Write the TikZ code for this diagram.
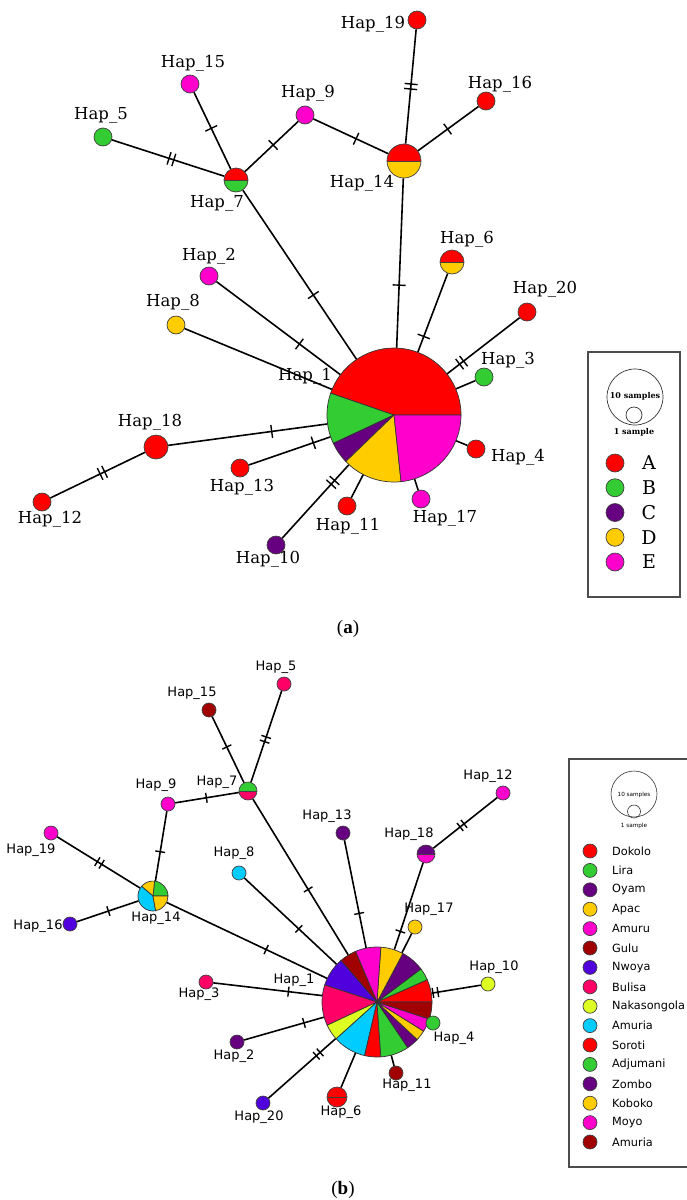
\documentclass[tikz,border=0pt]{standalone}
\usepackage{fontspec}
\setmainfont{DejaVu Sans}
\newfontfamily\hapserif{DejaVu Serif}
\newfontfamily\capserif{Liberation Serif}

\definecolor{hapred}{HTML}{FF0000}
\definecolor{hapgreen}{HTML}{33CC33}
\definecolor{happurple}{HTML}{660080}
\definecolor{hapyellow}{HTML}{FFCC00}
\definecolor{hapmagenta}{HTML}{FF00CC}
\definecolor{hapdarkred}{HTML}{A00000}
\definecolor{hapviolet}{HTML}{5000DC}
\definecolor{happink}{HTML}{FF0066}
\definecolor{haplime}{HTML}{DDFF22}
\definecolor{hapcyan}{HTML}{00CCFF}

\tikzset{
	hap/.style = {circle, draw = black!75, line width = 0.7pt, inner sep = 0pt, minimum size = #1},
	hap/.default = 18pt,
	hub/.style = {circle, inner sep = 0pt, minimum size = #1},
	halves/.style 2 args = {path picture = {
		\fill[#1] (path picture bounding box.west) rectangle (path picture bounding box.north east);
		\fill[#2] (path picture bounding box.west) rectangle (path picture bounding box.south east);
		\draw[line width = 0.8pt] (path picture bounding box.west) -- (path picture bounding box.east);}},
	link/.style = {line width = 1.6pt},
	slice/.style = {draw = black!80, line width = 0.7pt},
	tk/.style = {pos = #1, sloped},
	mut/.pic = {\draw[line width = 1.4pt] (0, -\tickh) -- (0, \tickh);},
	mutt/.pic = {\draw[line width = 1.4pt] (-2.5, -\tickh) -- (-2.5, \tickh) (2.5, -\tickh) -- (2.5, \tickh);},
	laba/.style = {font = \hapserif\fontsize{16.5}{18}\selectfont, inner sep = 0pt},
	labb/.style = {font = \fontsize{13}{15}\selectfont, inner sep = 0pt}
}

\begin{document}
\begin{tikzpicture}[x = 1pt, y = -1pt]
	\useasboundingbox (0, 0) rectangle (686, 1200);
	\def\tickh{6.5}

	% (a)
	\node[hap, fill = hapred] (a19) at (417, 20) {};
	\node[hap, fill = hapred] (a16) at (486, 101) {};
	\node[hap = 34pt, halves = {hapred}{hapyellow}] (a14) at (404, 161) {};
	\node[hap, fill = hapmagenta] (a9) at (305, 115) {};
	\node[hap, fill = hapmagenta] (a15) at (190, 84) {};
	\node[hap, fill = hapgreen] (a5) at (103, 137) {};
	\node[hap = 24pt, halves = {hapred}{hapgreen}] (a7) at (236, 180) {};
	\node[hap, fill = hapmagenta] (a2) at (209, 276) {};
	\node[hap = 24pt, halves = {hapred}{hapyellow}] (a6) at (452, 262) {};
	\node[hap, fill = hapred] (a20) at (527, 312) {};
	\node[hap, fill = hapgreen] (a3) at (484, 377) {};
	\node[hap, fill = hapyellow] (a8) at (176, 325) {};
	\node[hap = 24pt, fill = hapred] (a18) at (156, 447) {};
	\node[hap, fill = hapred] (a12) at (42, 502) {};
	\node[hap, fill = hapred] (a13) at (240, 468) {};
	\node[hap, fill = happurple] (a10) at (276, 545) {};
	\node[hap, fill = hapred] (a11) at (347, 506) {};
	\node[hap, fill = hapmagenta] (a17) at (421, 499) {};
	\node[hap, fill = hapred] (a4) at (476, 449) {};
	\node[hub = 134pt] (a1) at (394, 415) {};

	\draw[link] (a19) -- pic[tk = .50]{mutt} (a14);
	\draw[link] (a16) -- pic[tk = .51]{mut} (a14);
	\draw[link] (a9) -- pic[tk = .57]{mut} (a14);
	\draw[link] (a9) -- pic[tk = .47]{mut} (a7);
	\draw[link] (a15) -- pic[tk = .47]{mut} (a7);
	\draw[link] (a5) -- pic[tk = .53]{mutt} (a7);
	\draw[link] (a7) -- pic[tk = .62]{mut} (a1);
	\draw[link] (a14) -- pic[tk = .63]{mut} (a1);
	\draw[link] (a6) -- pic[tk = .80]{mut} (a1);
	\draw[link] (a20) -- pic[tk = .80]{mutt} (a1);
	\draw[link] (a3) -- (a1);
	\draw[link] (a2) -- pic[tk = .67]{mut} (a1);
	\draw[link] (a8) -- (a1);
	\draw[link] (a18) -- pic[tk = .65]{mut} (a1);
	\draw[link] (a12) -- pic[tk = .55]{mutt} (a18);
	\draw[link] (a13) -- pic[tk = .79]{mut} (a1);
	\draw[link] (a10) -- pic[tk = .76]{mutt} (a1);
	\draw[link] (a11) -- (a1);
	\draw[link] (a17) -- (a1);
	\draw[link] (a4) -- (a1);

	\begin{scope}[shift = {(a1.center)}, y = 1pt]
	\foreach \s/\e/\c in {0/161/hapred, 161/205/hapgreen, 205/224/happurple, 224/276/hapyellow, 276/360/hapmagenta}
	\filldraw[slice, fill = \c] (0, 0) -- (\s:67) arc[start angle = \s, end angle = \e, radius = 67] -- cycle;
	\end{scope}

	\node[laba] (la19) at (373, 24) {Hap\_19};
	\node[laba] (la16) at (500, 84) {Hap\_16};
	\node[laba] (la14) at (362, 183) {Hap\_14};
	\node[laba] (la9) at (308, 93) {Hap\_9};
	\node[laba] (la15) at (193, 63) {Hap\_15};
	\node[laba] (la5) at (101, 115) {Hap\_5};
	\node[laba] (la7) at (217, 203) {Hap\_7};
	\node[laba] (la2) at (209, 256) {Hap\_2};
	\node[laba] (la6) at (467, 239) {Hap\_6};
	\node[laba] (la20) at (545, 289) {Hap\_20};
	\node[laba] (la3) at (508, 360) {Hap\_3};
	\node[laba] (la8) at (173, 302) {Hap\_8};
	\node[laba] (la1) at (305, 376) {Hap\_1};
	\node[laba] (la18) at (150, 422) {Hap\_18};
	\node[laba] (la12) at (50, 519) {Hap\_12};
	\node[laba] (la13) at (242, 487) {Hap\_13};
	\node[laba] (la10) at (268, 559) {Hap\_10};
	\node[laba] (la11) at (348, 526) {Hap\_11};
	\node[laba] (la17) at (445, 518) {Hap\_17};
	\node[laba] (la4) at (518, 457) {Hap\_4};

	\draw[draw = black!70, line width = 1.2pt] (588, 352) rectangle (680, 597);
	\node[circle, draw = black!80, line width = 0.7pt, minimum size = 56pt] (lgabig) at (635, 397) {};
	\node[circle, draw = black!80, line width = 0.7pt, minimum size = 16pt] (lgasmall) at (634, 415) {};
	\node[font = \hapserif\bfseries\fontsize{8}{9}\selectfont, inner sep = 0pt] (lga10) at (635, 396) {10 samples};
	\node[font = \hapserif\bfseries\fontsize{8}{9}\selectfont, inner sep = 0pt] (lga1) at (634, 432) {1 sample};
	\foreach \c/\t [count = \i from 0] in {hapred/A, hapgreen/B, happurple/C, hapyellow/D, hapmagenta/E}
	{
		\node[hap, fill = \c] (lgac\i) at (615, 463 + 24.75 * \i) {};
		\node[font = \hapserif\fontsize{19}{21}\selectfont, inner sep = 0pt] (lgat\i) at (649, 463 + 24.75 * \i) {\t};
	}

	\node[font = \capserif\fontsize{19}{21}\selectfont, inner sep = 0pt] (capa) at (348, 629) {(\textbf{a})};

	% (b)
	\def\tickh{5}
	\node[hap = 14pt, fill = happink] (b5) at (284, 684) {};
	\node[hap = 14pt, fill = hapdarkred] (b15) at (209, 710) {};
	\node[hap, halves = {hapgreen}{happink}] (b7) at (248, 791) {};
	\node[hap = 14pt, fill = hapmagenta] (b9) at (168, 804) {};
	\node[hap = 14pt, fill = hapmagenta] (b19) at (51, 833) {};
	\node[hub = 30pt] (b14) at (153, 896) {};
	\node[hap = 14pt, fill = hapviolet] (b16) at (70, 924) {};
	\node[hap = 14pt, fill = hapcyan] (b8) at (239, 873) {};
	\node[hap = 14pt, fill = happurple] (b13) at (343, 833) {};
	\node[hap, halves = {happurple}{hapmagenta}] (b18) at (426, 854) {};
	\node[hap = 14pt, fill = hapmagenta] (b12) at (503, 793) {};
	\node[hap = 14pt, fill = hapyellow] (b17) at (415, 927) {};
	\node[hap = 14pt, fill = haplime] (b10) at (488, 984) {};
	\node[hap = 14pt, fill = happink] (b3) at (206, 982) {};
	\node[hap = 14pt, fill = happurple] (b2) at (237, 1042) {};
	\node[hap = 14pt, fill = hapviolet] (b20) at (263, 1103) {};
	\node[hap = 20pt, halves = {hapred}{hapred}] (b6) at (337, 1097) {};
	\node[hap = 14pt, fill = hapdarkred] (b11) at (396, 1073) {};
	\node[hub = 110pt] (b1) at (377, 1002) {};

	\draw[link] (b15) -- pic[tk = .46]{mut} (b7);
	\draw[link] (b5) -- pic[tk = .53]{mutt} (b7);
	\draw[link] (b9) -- pic[tk = .49]{mut} (b7);
	\draw[link] (b9) -- pic[tk = .58]{mut} (b14);
	\draw[link] (b19) -- pic[tk = .51]{mutt} (b14);
	\draw[link] (b16) -- pic[tk = .51]{mut} (b14);
	\draw[link] (b14) -- pic[tk = .62]{mut} (b1);
	\draw[link] (b7) -- pic[tk = .58]{mut} (b1);
	\draw[link] (b8) -- pic[tk = .59]{mut} (b1);
	\draw[link] (b13) -- pic[tk = .68]{mut} (b1);
	\draw[link] (b18) -- pic[tk = .79]{mut} (b1);
	\draw[link] (b12) -- pic[tk = .55]{mutt} (b18);
	\draw[link] (b17) -- (b1);
	\draw[link] (b10) -- pic[tk = .92]{mutt} (b1);
	\draw[link] (b11) -- (b1);
	\draw[link] (b6) -- (b1);
	\draw[link] (b20) -- pic[tk = .74]{mutt} (b1);
	\draw[link] (b2) -- pic[tk = .75]{mut} (b1);
	\draw[link] (b3) -- pic[tk = .69]{mut} (b1);

	\begin{scope}[shift = {(b14.center)}, y = 1pt]
	\foreach \s/\e/\c in {0/84/hapgreen, 84/140/hapyellow, 140/280/hapcyan, 280/360/hapyellow}
	\filldraw[slice, fill = \c] (0, 0) -- (\s:15) arc[start angle = \s, end angle = \e, radius = 15] -- cycle;
	\end{scope}
	\begin{scope}[shift = {(b1.center)}, y = 1pt]
	\foreach \s/\e/\c in {0/24/hapred, 24/37/hapgreen, 37/62/happurple, 62/86/hapyellow, 86/113/hapmagenta, 113/131/hapdarkred, 131/162/hapviolet, 162/205/happink, 205/222/haplime, 222/257/hapcyan, 257/274/hapred, 274/304/hapgreen, 304/317/happurple, 317/328/hapyellow, 328/342/hapmagenta, 342/360/hapdarkred}
	\filldraw[slice, fill = \c] (0, 0) -- (\s:55) arc[start angle = \s, end angle = \e, radius = 55] -- cycle;
	\end{scope}
	\node[hap = 14pt, fill = hapgreen] (b4) at (433, 1023) {};

	\node[labb] (lb5) at (276, 667) {Hap\_5};
	\node[labb] (lb15) at (192, 693) {Hap\_15};
	\node[labb] (lb7) at (217, 782) {Hap\_7};
	\node[labb] (lb9) at (156, 785) {Hap\_9};
	\node[labb] (lb19) at (31, 850) {Hap\_19};
	\node[labb] (lb14) at (156, 918) {Hap\_14};
	\node[labb] (lb16) at (38, 926) {Hap\_16};
	\node[labb] (lb8) at (234, 853) {Hap\_8};
	\node[labb] (lb13) at (327, 816) {Hap\_13};
	\node[labb] (lb18) at (409, 834) {Hap\_18};
	\node[labb] (lb12) at (488, 776) {Hap\_12};
	\node[labb] (lb17) at (429, 909) {Hap\_17};
	\node[labb] (lb10) at (494, 967) {Hap\_10};
	\node[labb] (lb1) at (294, 980) {Hap\_1};
	\node[labb] (lb3) at (199, 994) {Hap\_3};
	\node[labb] (lb2) at (234, 1056) {Hap\_2};
	\node[labb] (lb20) at (259, 1117) {Hap\_20};
	\node[labb] (lb6) at (341, 1112) {Hap\_6};
	\node[labb] (lb11) at (407, 1085) {Hap\_11};
	\node[labb] (lb4) at (454, 1038) {Hap\_4};

	\draw[draw = black!70, line width = 1.2pt] (569, 759) rectangle (700, 1167);
	\node[circle, draw = black!80, line width = 0.6pt, minimum size = 46pt] (lgbbig) at (634, 794) {};
	\node[circle, draw = black!80, line width = 0.6pt, minimum size = 13pt] (lgbsmall) at (634, 811.5) {};
	\node[font = \fontsize{5.7}{6}\selectfont, inner sep = 0pt] (lgb10) at (634, 795) {10 samples};
	\node[font = \fontsize{5.7}{6}\selectfont, inner sep = 0pt] (lgb1) at (634, 826) {1 sample};
	\foreach \c/\t [count = \i from 0] in {hapred/Dokolo, hapgreen/Lira, happurple/Oyam, hapyellow/Apac, hapmagenta/Amuru, hapdarkred/Gulu, hapviolet/Nwoya, happink/Bulisa, haplime/Nakasongola, hapcyan/Amuria, hapred/Soroti, hapgreen/Adjumani, happurple/Zombo, hapyellow/Koboko, hapmagenta/Moyo, hapdarkred/Amuria}
	{
		\node[hap = 14pt, fill = \c] (lgbc\i) at (590, 851 + 19.4 * \i) {};
		\node[font = \fontsize{11.3}{13}\selectfont, inner sep = 0pt, anchor = west] (lgbt\i) at (612, 851 + 19.4 * \i) {\t};
	}

	\node[font = \capserif\fontsize{19}{21}\selectfont, inner sep = 0pt] (capb) at (343, 1190) {(\textbf{b})};
\end{tikzpicture}
\end{document}
